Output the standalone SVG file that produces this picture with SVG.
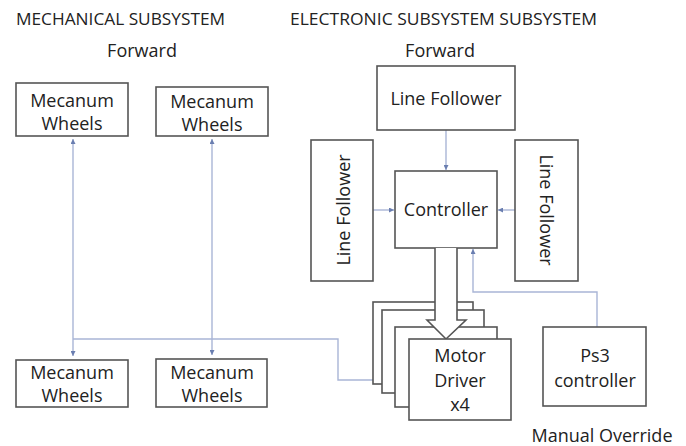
<svg xmlns="http://www.w3.org/2000/svg" width="686" height="446" viewBox="0 0 686 446">
<defs>
<marker id="ah" viewBox="0 0 6 6" refX="6" refY="3" markerWidth="5" markerHeight="5" orient="auto-start-reverse" markerUnits="userSpaceOnUse">
<path d="M0,0 L6,3 L0,6 z" fill="#6a7eb0"/>
</marker>
<style>
.box{fill:#fff;stroke:#555;stroke-width:1.6}
.t{font-family:"Open Sans","Liberation Sans",sans-serif;font-size:18px;fill:#222;text-anchor:middle}
.h{font-family:"Open Sans","Liberation Sans",sans-serif;font-size:16.5px;fill:#222}
.c{fill:none;stroke:#a9b5d6;stroke-width:1.4}
</style>
</defs>
<rect width="686" height="446" fill="#fff"/>

<text class="h" x="16" y="25" textLength="209" lengthAdjust="spacingAndGlyphs">MECHANICAL SUBSYSTEM</text>
<text class="h" x="290" y="25" textLength="307" lengthAdjust="spacingAndGlyphs">ELECTRONIC SUBSYSTEM SUBSYSTEM</text>
<text class="t" x="142" y="57">Forward</text>
<text class="t" x="440" y="57">Forward</text>
<text class="t" x="602" y="442">Manual Override</text>

<g id="connectors">
<path class="c" d="M73,139 V356" marker-start="url(#ah)" marker-end="url(#ah)"/>
<path class="c" d="M212,139 V355" marker-start="url(#ah)" marker-end="url(#ah)"/>
<path class="c" d="M73,339 H338 V380 H409"/>
<path class="c" d="M446,130 V170" marker-end="url(#ah)"/>
<path class="c" d="M373,210 H394" marker-end="url(#ah)"/>
<path class="c" d="M515,210 H498" marker-end="url(#ah)"/>
<path class="c" d="M597,327 V292 H473 V249" marker-end="url(#ah)"/>
</g>

<g id="mw1"><rect class="box" x="16" y="83" width="112" height="53"/><text class="t" x="72" y="107">Mecanum</text><text class="t" x="72" y="130">Wheels</text></g>
<g id="mw2"><rect class="box" x="156" y="87" width="112" height="49"/><text class="t" x="212" y="108">Mecanum</text><text class="t" x="212" y="131">Wheels</text></g>
<g id="mw3"><rect class="box" x="16" y="360" width="112" height="47"/><text class="t" x="72" y="379">Mecanum</text><text class="t" x="72" y="402">Wheels</text></g>
<g id="mw4"><rect class="box" x="156" y="359" width="111" height="48"/><text class="t" x="212" y="379">Mecanum</text><text class="t" x="212" y="402">Wheels</text></g>

<g id="lf-top"><rect class="box" x="377" y="66" width="138" height="64"/><text class="t" x="446" y="105">Line Follower</text></g>
<g id="lf-left"><rect class="box" x="311" y="140" width="62" height="141"/><text class="t" transform="translate(350,210) rotate(-90)">Line Follower</text></g>
<g id="lf-right"><rect class="box" x="515" y="140" width="63" height="141"/><text class="t" transform="translate(540,210) rotate(90)">Line Follower</text></g>
<g id="controller"><rect class="box" x="395" y="171" width="102" height="77"/><text class="t" x="446" y="216">Controller</text></g>

<g id="motor-driver">
<rect class="box" x="373" y="302" width="100" height="82"/>
<rect class="box" x="382" y="310" width="102" height="83"/>
<rect class="box" x="395" y="327" width="102" height="80"/>
<path class="box" d="M435,248 V320 H427 L446,339 L466,320 H457 V248"/>
<rect class="box" x="409" y="339" width="102" height="81"/>
<text class="t" x="460" y="362">Motor</text>
<text class="t" x="460" y="387">Driver</text>
<text class="t" x="460" y="411">x4</text>
</g>

<g id="ps3"><rect class="box" x="543" y="327" width="103" height="79"/><text class="t" x="595" y="362">Ps3</text><text class="t" x="595" y="387">controller</text></g>
</svg>
